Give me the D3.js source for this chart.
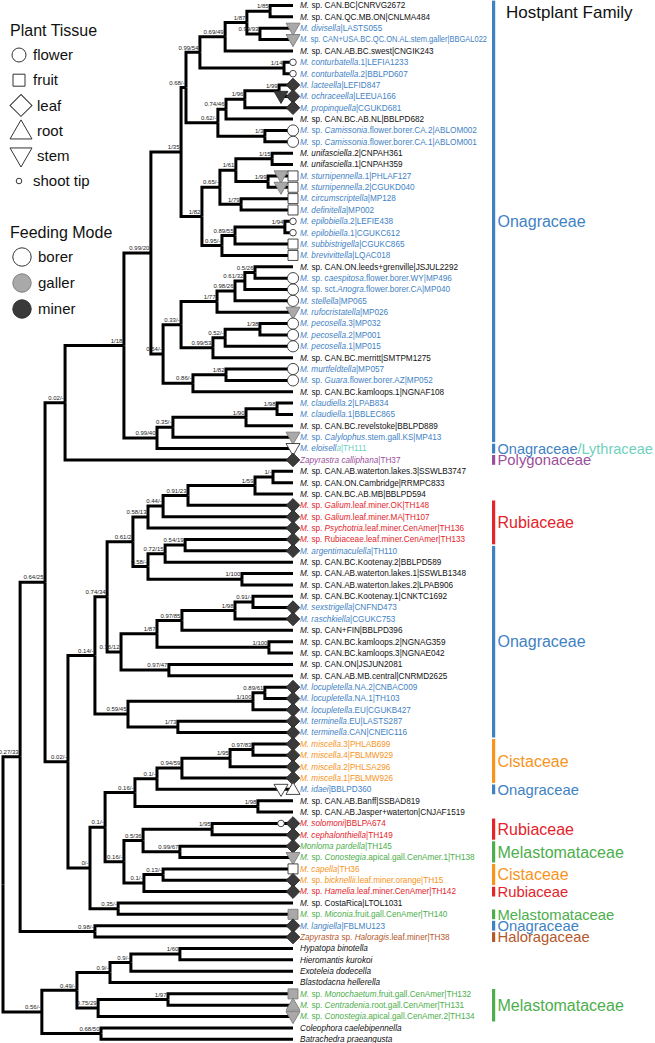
<!DOCTYPE html>
<html><head><meta charset="utf-8">
<script src="https://cdn.jsdelivr.net/npm/d3@7"></script>
<style>
body{margin:0;background:#fff;}
svg{display:block;font-family:"Liberation Sans",Arial,Helvetica,sans-serif;}
text{white-space:pre;}
</style></head><body>
<svg id="chart" width="655" height="1043"></svg>
<script>
// ---------------- DATA ----------------
const leafNames = [
"_M._ sp. CAN.BC|CNRVG2672","_M._ sp. CAN.QC.MB.ON|CNLMA484","_M. divisella_|LASTS055",
"_M._ sp. CAN+USA.BC.QC.ON.AL.stem.galler|BBGAL022","_M._ sp. CAN.AB.BC.swest|CNGIK243",
"_M. conturbatella_.1|LEFIA1233","_M. conturbatella_.2|BBLPD607","_M. lacteella_|LEFID847",
"_M. ochraceella_|LEEUA166","_M. propinquella_|CGUKD681","_M._ sp. CAN.BC.AB.NL|BBLPD682",
"_M._ sp. _Camissonia_.flower.borer.CA.2|ABLOM002","_M._ sp. _Camissonia_.flower.borer.CA.1|ABLOM001",
"_M. unifasciella_.2|CNPAH361","_M. unifasciella_.1|CNPAH359","_M. sturnipennella_.1|PHLAF127",
"_M. sturnipennella_.2|CGUKD040","_M. circumscriptella_|MP128","_M. definitella_|MP002",
"_M. epilobiella_.2|LEFIE438","_M. epilobiella_.1|CGUKC612","_M. subbistrigella_|CGUKC865",
"_M. brevivittella_|LQAC018","_M._ sp. CAN.ON.leeds+grenville|JSJUL2292",
"_M._ sp. _caespitosa_.flower.borer.WY|MP496","_M._ sp. sct._Anogra_.flower.borer.CA|MP040",
"_M. stellella_|MP065","_M. rufocristatella_|MP026","_M. pecosella_.3|MP032","_M. pecosella_.2|MP001",
"_M. pecosella_.1|MP015","_M._ sp. CAN.BC.merritt|SMTPM1275","_M. murtfeldtella_|MP057",
"_M._ sp. _Guara_.flower.borer.AZ|MP052","_M._ sp. CAN.BC.kamloops.1|NGNAF108",
"_M. claudiella_.2|LPAB834","_M. claudiella_.1|BBLEC865","_M._ sp. CAN.BC.revelstoke|BBLPD889",
"_M._ sp. _Calylophus_.stem.gall.KS|MP413","_M. eloisell~a_|TH111","_Zapyrastra calliphana_|TH37",
"_M._ sp. CAN.AB.waterton.lakes.3|SSWLB3747","_M._ sp. CAN.ON.Cambridge|RRMPC833",
"_M._ sp. CAN.BC.AB.MB|BBLPD594","_M._ sp. _Galium_.leaf.miner.OK|TH148",
"_M._ sp. _Galium_.leaf.miner.MA|TH107","_M._ sp. _Psychotria_.leaf.miner.CenAmer|TH136",
"_M._ sp. Rubiaceae.leaf.miner.CenAmer|TH133","_M. argentimaculella_|TH110",
"_M._ sp. CAN.BC.Kootenay.2|BBLPD589","_M._ sp. CAN.AB.waterton.lakes.1|SSWLB1348",
"_M._ sp. CAN.AB.waterton.lakes.2|LPAB906","_M._ sp. CAN.BC.Kootenay.1|CNKTC1692",
"_M. sexstrigella_|CNFND473","_M. raschkiella_|CGUKC753","_M._ sp. CAN+FIN|BBLPD396",
"_M._ sp. CAN.BC.kamloops.2|NGNAG359","_M._ sp. CAN.BC.kamloops.3|NGNAE042",
"_M._ sp. CAN.ON|JSJUN2081","_M._ sp. CAN.AB.MB.central|CNRMD2625",
"_M. locupletella_.NA.2|CNBAC009","_M. locupletella_.NA.1|TH103","_M. locupletella_.EU|CGUKB427",
"_M. terminella_.EU|LASTS287","_M. terminella_.CAN|CNEIC116","_M. miscella_.3|PHLAB699",
"_M. miscella_.4|FBLMW929","_M. miscella_.2|PHLSA296","_M. miscella_.1|FBLMW926",
"_M. idaei_|BBLPD360","_M._ sp. CAN.AB.Banff|SSBAD819","_M._ sp. CAN.AB.Jasper+waterton|CNJAF1519",
"_M. solomoni_|BBLPA674","_M. cephalonthiella_|TH149","_Monloma pardella_|TH145",
"_M._ sp. _Conostegia_.apical.gall.CenAmer.1|TH138","_M. capella_|TH36",
"_M._ sp. _bicknellii_.leaf.miner.orange|TH15","_M._ sp. _Hamelia_.leaf.miner.CenAmer|TH142",
"_M._ sp. CostaRica|LTOL1031","_M._ sp. _Miconia_.fruit.gall.CenAmer|TH140",
"_M. langiella_|FBLMU123","_Zapyrastra_ sp. _Haloragis_.leaf.miner|TH38",
"_Hypatopa binotella_","_Hieromantis kurokoi_","_Exoteleia dodecella_","_Blastodacna hellerella_",
"_M._ sp. _Monochaetum_.fruit.gall.CenAmer|TH132","_M._ sp. _Centradenia_.root.gall.CenAmer|TH131",
"_M._ sp. _Conostegia_.apical.gall.CenAmer.2|TH134","_Coleophora caelebipennella_","_Batrachedra praeangusta_"
];
// label colour group per leaf (k = none, O Onagraceae, R Rubiaceae, C Cistaceae, M Melastomataceae, P Polygonaceae, H Haloragaceae)
const leafGroups = ("kkOOkOOOOO kOOkkOOOOO OOOkOOOOOO OkOOkOOkOO PkkkRRRROk " +
                    "kkkOOkkkkk OOOOOCCCCO kkRRMMCCRk MOHkkkkMMM kk").replace(/ /g,"").split("");
// tissue:feeding marks at each tip ("+" separates multiple marks, left to right)
const leafMarks = [
"","","stem:galler","stem:galler","","shoot:borer","shoot:borer","leaf:miner","stem:miner+leaf:miner","leaf:miner",
"","flower:borer","flower:borer","","","stem:galler+fruit:borer","stem:galler+fruit:borer","fruit:borer","fruit:borer","shoot:borer",
"shoot:borer","fruit:borer","fruit:borer","","flower:borer","flower:borer","flower:borer","stem:galler","flower:borer","flower:borer",
"flower:borer","","flower:borer","flower:borer","","","","","stem:galler","stem:borer",
"leaf:miner","","","","leaf:miner","leaf:miner","leaf:miner","leaf:miner","leaf:miner","",
"","","","leaf:miner","leaf:miner","","","","","",
"leaf:miner","leaf:miner","leaf:miner","leaf:miner","leaf:miner","leaf:miner","leaf:miner","leaf:miner","leaf:miner","stem:borer+root:borer",
"","","shoot:borer+leaf:miner","leaf:miner","leaf:miner","stem:galler","fruit:borer","leaf:miner","leaf:miner","",
"fruit:galler","leaf:miner","leaf:miner","","","","","fruit:galler","root:galler","stem:galler",
"",""
];
// parent clade of each leaf
const leafParents = [
"A","A","B","B","D","E","E","G","G","H","I","J","J","S1","S1","S3","S3","S5","S5","S7",
"S7","S8","S6","R1","R1","R2","R3","R4","R10","R10","R11","R12","R9","R9","R8","T3","T3","T4","T5","T6",
"T7","V1","V1","V2","V3","V4","V5","V8","V8","V9","V11","V11","W2","W2","W1","W3","W4","W4","W6","W6",
"X3","X3","X4","X5","X5","Y1","Y1","Y2","Y3","Y4","Y6","Y6","Z3","Z3","Z5","Z5","Z8","Z8","Z7","Z9",
"Z9","AA1","AA1","OG4","OG4","OG5","OG6","OG7","OG7","OG8","OG10","OG10"
];
// internal clades: [id, parent, support (PP/bootstrap), node depth (root = 0, tips = 100)]
const clades = [
["root","", "",0],["U3","root","0.27/33",5.9],["OG11","root","0.56/-",13.4],
["U1","U3","0.64/25",14.5],["AA1","U3","0.98/-",31.7],["T7","U1","0.02/-",21.4],["X6","U1","0.02/-",22.4],
["T1","T7","1/18",41.7],["M","T1","0.99/20",51.0],["T6","T1","0.99/40",53.1],
["N","M","1/35",61.4],["R7","M","0.54/-",55.2],["L","N","0.68/-",63.1],["P","N","1/82",68.6],
["F","L","0.99/54",67.9],["K","L","0.62/-",74.1],["D","F","0.69/49",76.6],["E","F","1/14",96.9],
["C","D","1/87",84.1],["A","C","1/85",92.1],["B","C","0.99/93",88.6],["I","K","0.74/46",76.9],
["J","K","1/3",90.3],["H","I","1/96",83.4],["G","H","1/99",95.2],
["S4","P","0.65/-",74.8],["S6","P","0.95/-",75.5],["S2","S4","1/61",80.3],["S5","S4","1/79",82.1],
["S1","S2","1/15",92.8],["S3","S2","1/99",91.4],["S8","S6","0.89/55",80.0],["S7","S8","1/94",97.2],
["R5","R7","0.33/-",61.4],["R8","R7","0.86/-",65.5],["R4","R5","1/77",73.8],["R12","R5","0.99/53",72.4],
["R3","R4","0.98/26",80.0],["R2","R3","0.61/32",83.4],["R1","R2","0.5/26",86.9],
["R11","R12","0.52/-",76.6],["R10","R11","1/38",88.6],["R9","R8","1/82",76.9],
["T5","T6","0.35/-",58.6],["T4","T5","1/90",83.8],["T3","T4","1/98",94.5],
["X1","X6","0.14/-",31.7],["Z10","X6","0/-",30.0],["V12","X1","0.74/34",35.9],["X2","X1","0.59/45",43.1],
["V6","V12","0.61/2",44.8],["W7","V12","0.36/12",40.7],["V5","V6","0.58/13",50.0],["V10","V6","0.58/-",50.0],
["V4","V5","0.44/-",55.2],["V3","V4","0.91/23",63.8],["V2","V3","1/59",86.9],["V1","V2","1/-",93.1],
["V9","V10","0.72/15",55.9],["V11","V10","1/100",82.4],["V8","V9","0.54/19",62.8],
["W5","W7","1/87",53.1],["W6","W7","0.97/47",57.2],["W3","W5","0.97/85",61.7],["W4","W5","1/100",91.7],
["W1","W3","1/98",80.0],["W2","W1","0.91/-",86.2],["X4","X2","1/100",86.2],["X5","X2","1/73",60.3],
["X3","X4","0.89/61",90.3],["Z1","Z10","0.1/-",35.2],["Z9","Z10","0.35/-",39.7],
["Y5","Z1","0.16/-",45.5],["Z6","Z1","0.16/-",41.7],["Y4","Y5","0.1/-",53.1],["Y6","Y5","1/98",87.9],
["Y3","Y4","0.94/59",61.7],["Y2","Y3","1/95",78.3],["Y1","Y2","0.97/83",86.2],
["Z4","Z6","0.5/36",48.3],["Z7","Z6","0.1/-",48.6],["Z3","Z4","1/95",72.1],["Z5","Z4","0.99/67",61.0],
["Z8","Z7","0.13/-",55.2],["OG9","OG11","0.49/-",25.5],["OG10","OG11","0.68/50",33.8],
["OG6","OG9","0.9/-",36.9],["OG8","OG9","0.75/29",32.8],["OG5","OG6","0.9/-",44.1],
["OG4","OG5","1/60",61.0],["OG7","OG8","1/97",56.9]
];
// host plant family bars (leaf index ranges)
const hostFamilies = ["Onagraceae","Onagraceae/Lythraceae","Polygonaceae","Rubiaceae","Onagraceae","Cistaceae",
  "Onagraceae","Rubiaceae","Melastomataceae","Cistaceae","Rubiaceae","Melastomataceae","Onagraceae","Haloragaceae","Melastomataceae"];
const hostFrom = [1,40,41,45,49,66,70,73,75,77,79,81,82,83,88];
const hostTo   = [39,40,41,48,65,69,70,74,76,78,79,81,82,83,90];
const tissueLegend = ["flower","fruit","leaf","root","stem","shoot tip"];
const feedingLegend = ["borer","galler","miner"];

// ---------------- STYLE ----------------
const groupColor = {k:"#111111",O:"#3f82c4",R:"#e3242b",C:"#f7941d",M:"#4cae4c",P:"#9b4f9b",H:"#b4582c",L:"#6fd1bd"};
const familyColor = {"Onagraceae":"#3f82c4","Rubiaceae":"#e3242b","Cistaceae":"#f7941d","Melastomataceae":"#4cae4c",
  "Polygonaceae":"#9b4f9b","Haloragaceae":"#b4582c","Lythraceae":"#6fd1bd"};
const feedFill = {borer:"#ffffff",galler:"#a9a9a9",miner:"#3a3a3a"};
const feedStroke = {borer:"#333",galler:"#7d7d7d",miner:"#2a2a2a"};

const svg = d3.select("#chart");
const x = d3.scaleLinear().domain([0,100]).range([3,293]);
const y = d3.scaleLinear().domain([1,92]).range([5.5,1039.3]);

// ---------------- TREE ----------------
const rows = clades.map(c=>({id:c[0],parent:c[1]===""?null:c[1],support:c[2],depth:c[3]}))
  .concat(leafParents.map((p,i)=>({id:"L"+(i+1),parent:p,support:"",depth:100,leaf:i+1})));
const root = d3.stratify().id(d=>d.id).parentId(d=>d.parent)(rows);
root.eachAfter(n=>{
  n.px = x(n.data.depth);
  if(!n.children){ n.py = y(n.data.leaf); }
  else { const ys = n.children.map(c=>c.py); n.py = (d3.min(ys)+d3.max(ys))/2; }
});

const gTree = svg.append("g");
gTree.selectAll("path.link").data(root.descendants().filter(n=>n.parent))
  .join("path").attr("class","link")
  .attr("d",n=>`M${n.parent.px},${n.parent.py}V${n.py}H${n.px}`)
  .attr("fill","none").attr("stroke","#000").attr("stroke-width",3).attr("stroke-linejoin","miter");

gTree.selectAll("text.sup").data(root.descendants().filter(n=>n.children && n.data.support))
  .join("text").attr("class","sup")
  .attr("x",n=>n.px-1.5).attr("y",n=>n.py-2.8)
  .attr("text-anchor","end").attr("font-size",6).attr("fill","#222")
  .text(n=>n.data.support);

// symbol generators
function markPath(tissue){
  if(tissue==="flower") return d3.symbol(d3.symbolCircle, Math.PI*5.6*5.6)();
  if(tissue==="shoot") return d3.symbol(d3.symbolCircle, Math.PI*3.3*3.3)();
  if(tissue==="fruit") return d3.symbol(d3.symbolSquare, 100)();
  if(tissue==="leaf") return d3.symbol(d3.symbolSquare, 9.6*9.6)();
  return d3.symbol(d3.symbolTriangle, 14*14*Math.sqrt(3)/4)();
}
function legendPath(tissue){
  if(tissue==="flower") return d3.symbol(d3.symbolCircle, Math.PI*7*7)();
  if(tissue==="shoot") return d3.symbol(d3.symbolCircle, Math.PI*2.8*2.8)();
  if(tissue==="fruit") return d3.symbol(d3.symbolSquare, 12*12)();
  if(tissue==="leaf") return d3.symbol(d3.symbolSquare, 15.5*15.5)();
  return d3.symbol(d3.symbolTriangle, 22*22*Math.sqrt(3)/4)();
}
function markRotate(tissue){ return tissue==="leaf"?45:(tissue==="stem"?180:0); }

const tips = root.leaves();
const markData = [];
tips.forEach(t=>{
  const ms = leafMarks[t.data.leaf-1];
  if(!ms) return;
  const parts = ms.split("+");
  parts.forEach((m,i)=>{
    const [tissue,feed] = m.split(":");
    markData.push({tissue,feed,cx:t.px-(parts.length-1-i)*12,cy:t.py});
  });
});
gTree.selectAll("path.mark").data(markData).join("path").attr("class","mark")
  .attr("d",d=>markPath(d.tissue))
  .attr("transform",d=>`translate(${d.cx},${d.cy + (d.tissue==="stem"?-1:(d.tissue==="root"?1:0))}) rotate(${markRotate(d.tissue)})`)
  .attr("fill",d=>feedFill[d.feed]).attr("stroke",d=>feedStroke[d.feed]).attr("stroke-width",0.9);

// rich labels
function rich(sel, str, base, alt){
  let italic=false, color=base, buf="";
  const flush=()=>{ if(buf){ sel.append("tspan").attr("font-style",italic?"italic":"normal").attr("fill",color).text(buf); buf=""; } };
  for(const ch of str){
    if(ch==="_"){ flush(); italic=!italic; }
    else if(ch==="~"){ flush(); color=alt; }
    else buf+=ch;
  }
  flush();
}
gTree.selectAll("text.tip").data(tips).join("text").attr("class","tip")
  .attr("x",300).attr("y",t=>t.py).attr("dy","0.35em").attr("font-size",8.2)
  .each(function(t){
    const i=t.data.leaf-1;
    rich(d3.select(this), leafNames[i], groupColor[leafGroups[i]], groupColor.L);
    const w = this.getComputedTextLength();
    if(300 + w > 487) d3.select(this).attr("textLength",187).attr("lengthAdjust","spacingAndGlyphs");
  });

// ---------------- HOST PLANT BARS ----------------
const step = y(2)-y(1);
const gHost = svg.append("g");
gHost.append("text").attr("x",506).attr("y",12).attr("dy","0.35em").attr("font-size",17).attr("fill","#111").text("Hostplant Family");
hostFamilies.forEach((f,i)=>{
  const y0 = y(hostFrom[i]) - step/2 + 0.8, y1 = y(hostTo[i]) + step/2 - 0.8;
  const parts = f.split("/");
  const fs = hostTo[i] > hostFrom[i] ? 16 : 14.8;
  gHost.append("rect").attr("x",492).attr("y",Math.max(0,y0)).attr("width",3.2).attr("height",y1-Math.max(0,y0))
    .attr("fill",familyColor[parts[0]]);
  const t = gHost.append("text").attr("x",497.5).attr("y",(y0+y1)/2).attr("dy","0.36em").attr("font-size",fs);
  parts.forEach((p,j)=>t.append("tspan").attr("fill",familyColor[p]).text((j?"/":"")+p));
  const w = t.node().getComputedTextLength();
  if(497.5 + w > 653) t.attr("font-size", fs*(653-497.5)/w);
});

// ---------------- LEGEND ----------------
const gLeg = svg.append("g");
gLeg.append("text").attr("x",10).attr("y",30).attr("dy","0.35em").attr("font-size",16).attr("fill","#111").text("Plant Tissue");
const tissueKey = {"flower":"flower","fruit":"fruit","leaf":"leaf","root":"root","stem":"stem","shoot tip":"shoot"};
const ly = d3.scaleLinear().domain([0,5]).range([55,181]);
tissueLegend.forEach((t,i)=>{
  const k = tissueKey[t];
  const big = (k==="leaf"||k==="root"||k==="stem");
  gLeg.append("path").attr("d",legendPath(k))
    .attr("transform",`translate(${big?21:19},${ly(i) + (k==="stem"?-1.5:(k==="root"?2:0))}) rotate(${markRotate(k)})`)
    .attr("fill","#fff").attr("stroke","#333").attr("stroke-width",1);
  gLeg.append("text").attr("x",big?37:33).attr("y",ly(i)).attr("dy","0.35em").attr("font-size",15).attr("fill","#111").text(t);
});
gLeg.append("text").attr("x",10).attr("y",232).attr("dy","0.35em").attr("font-size",16).attr("fill","#111").text("Feeding Mode");
const fy = d3.scaleLinear().domain([0,2]).range([257,309]);
feedingLegend.forEach((f,i)=>{
  gLeg.append("circle").attr("cx",22).attr("cy",fy(i)).attr("r",9.2)
    .attr("fill",feedFill[f]).attr("stroke",feedStroke[f]).attr("stroke-width",1);
  gLeg.append("text").attr("x",38).attr("y",fy(i)).attr("dy","0.35em").attr("font-size",15).attr("fill","#111").text(f);
});
</script>
</body></html>
